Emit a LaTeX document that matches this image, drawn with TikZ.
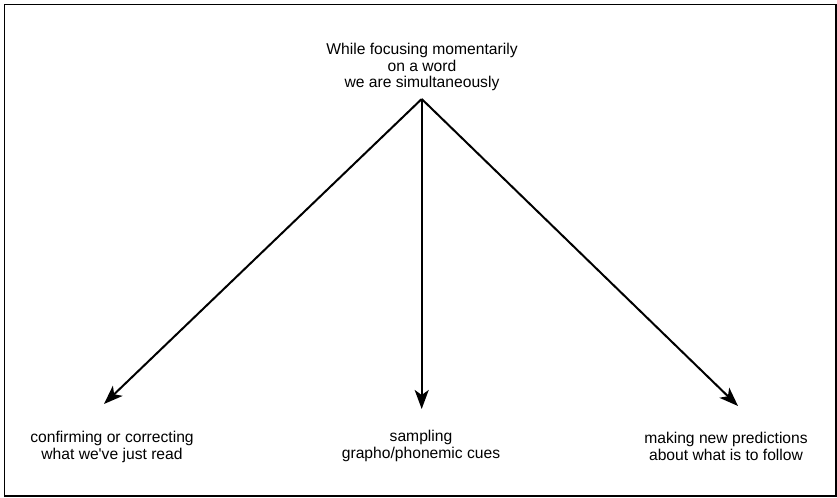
\documentclass[tikz,border=0pt]{standalone}
\usepackage{fontspec}
\newfontfamily\labelfont{Liberation Sans}
\usetikzlibrary{arrows.meta}
\begin{document}
\begin{tikzpicture}[x=1bp,y=-1bp,
  label text/.style={align=center,inner sep=0pt,font=\labelfont\fontsize{15.7}{17}\selectfont},
  branch/.style={line width=2bp,-{Stealth[length=19bp,width=14bp,inset=5bp]}}]
  \useasboundingbox (0,0) rectangle (837,498);
  % outer frame
  \draw[line width=1.6bp] (4.5,4.5) rectangle (836,496);
  % texts
  \node[label text] (top) at (422,67) {While focusing momentarily\\on a word\\we are simultaneously};
  \node[label text] (left) at (112,447) {confirming or correcting\\what we've just read};
  \node[label text] (mid) at (421,446) {sampling\\grapho/phonemic cues};
  \node[label text] (right) at (726,446) {making new predictions\\about what is to follow};
  % branching arrows
  \coordinate (apex) at (421.7,99);
  \coordinate (tipL) at (104,404);
  \coordinate (tipM) at (421.7,409);
  \coordinate (tipR) at (738,406);
  \draw[branch] (apex) -- (tipL);
  \draw[branch] (apex) -- (tipM);
  \draw[branch] (apex) -- (tipR);
\end{tikzpicture}
\end{document}
